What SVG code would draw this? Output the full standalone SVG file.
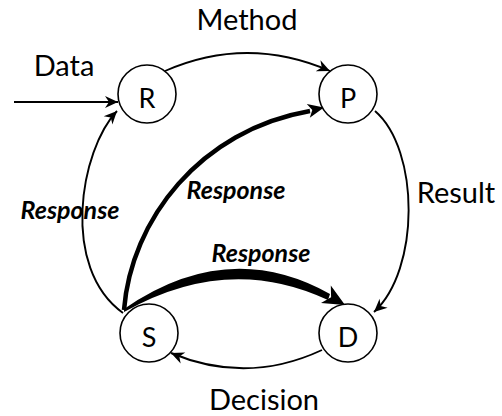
<svg xmlns="http://www.w3.org/2000/svg" width="502" height="416" viewBox="0 0 502 416">
<style>
.lbl{font-family:Lato,"Open Sans","Liberation Sans",sans-serif;font-size:29px;fill:#000;text-anchor:middle}
.ltr{font-family:Lato,"Open Sans","Liberation Sans",sans-serif;font-size:27px;fill:#000;text-anchor:middle}
.rsp{font-family:Lato,"Open Sans","Liberation Sans",sans-serif;font-size:25px;font-weight:bold;font-style:italic;fill:#000;text-anchor:middle}
.node{fill:#fff;stroke:#000;stroke-width:1.6}
.thin{fill:none;stroke:#000;stroke-width:1.9;marker-end:url(#a)}
</style>
<defs>
<marker id="a" viewBox="-14 -7 16 14" refX="0" refY="0" markerWidth="16" markerHeight="14" markerUnits="userSpaceOnUse" orient="auto">
<path d="M0,0 L-13,-6 L-9,0 L-13,6 Z" fill="#000"/>
</marker>
</defs>
<g id="connectors">
<path class="thin" d="M14,102 L118,102"/>
<path class="thin" d="M165,71 Q247,35 330,71"/>
<path class="thin" d="M375,111 C420,150 420,270 374,312"/>
<path class="thin" d="M322,350 Q247,385 171,353"/>
<path class="thin" d="M123,313 C60,268 80,150 117,111"/>
<path d="M124,310 C131,220 200,130 310,111" fill="none" stroke="#000" stroke-width="4.5"/>
<polygon points="324,107.5 306.8,104.1 312.3,110 309.8,117.7" fill="#000"/>
<path d="M124,309 Q228,237 330,294 L328,300 Q228,253 124,312 Z" fill="#000"/>
<polygon points="345,305 330.8,285.5 331.1,297.2 321,302.9" fill="#000"/>
</g>
<g id="node-R"><circle class="node" cx="147" cy="94" r="29"/><text class="ltr" x="147" y="108">R</text></g>
<g id="node-P"><circle class="node" cx="348" cy="94" r="29"/><text class="ltr" x="348" y="108">P</text></g>
<g id="node-S"><circle class="node" cx="149" cy="333" r="29"/><text class="ltr" x="149" y="347">S</text></g>
<g id="node-D"><circle class="node" cx="348" cy="333" r="29"/><text class="ltr" x="348" y="347">D</text></g>
<g id="labels">
<text class="lbl" x="247" y="30">Method</text>
<text class="lbl" x="64" y="76">Data</text>
<text class="lbl" x="456" y="203">Result</text>
<text class="lbl" x="264" y="410">Decision</text>
<text class="rsp" x="70" y="219">Response</text>
<text class="rsp" x="236" y="199">Response</text>
<text class="rsp" x="261" y="262">Response</text>
</g>
</svg>
